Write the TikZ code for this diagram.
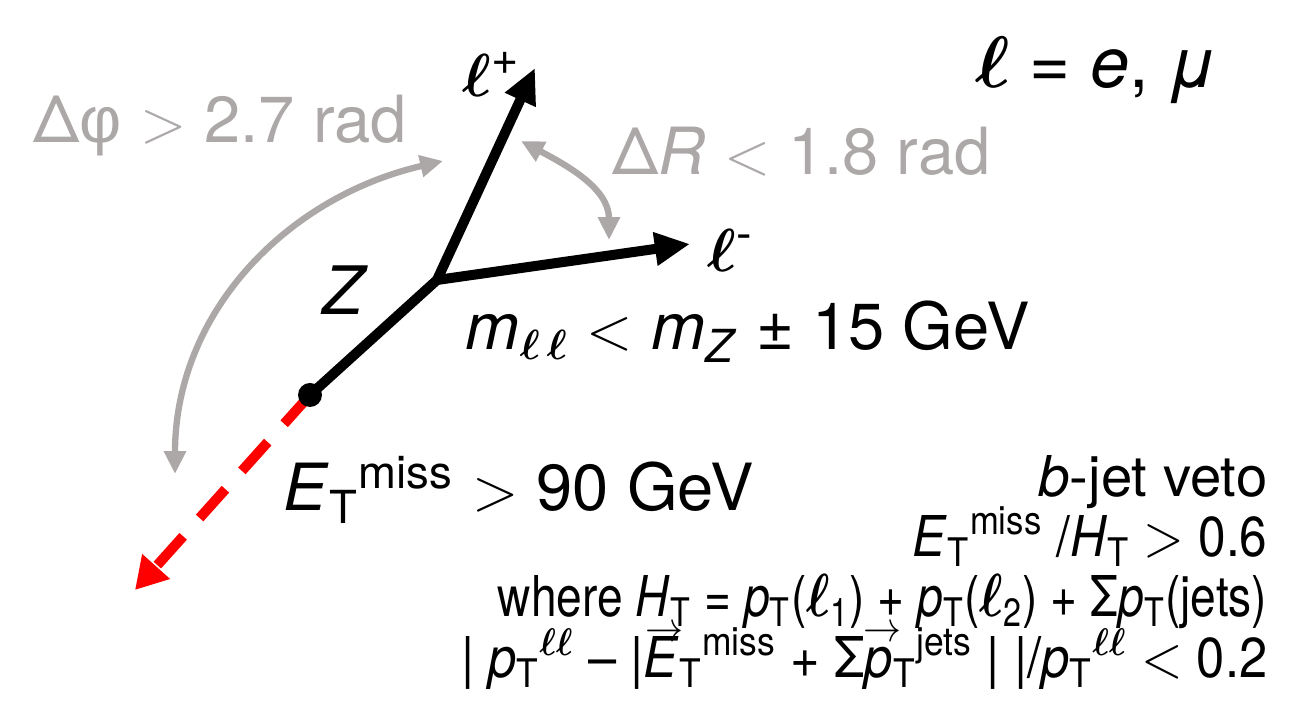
\documentclass[tikz,border=0pt]{standalone}
\usepackage{amsmath,amssymb}
\usepackage{graphicx}
\usepackage{fontspec}
\setmainfont{TeX Gyre Heros}
\newfontfamily\grkfont{Liberation Sans}
\usetikzlibrary{arrows.meta}
\definecolor{arcgray}{RGB}{172,168,168}
\newcommand{\ellb}{\boldsymbol{\ell}}
\newcommand{\ETmiss}{\textit{E}$_{\text{T}}{}^{\text{miss}}$}
\newcommand{\pTx}{\textit{p}$_{\text{T}}$}
\newcommand{\HTx}{\textit{H}$_{\text{T}}$}
\newcommand{\vecx}[1]{\leavevmode\hbox{\ooalign{#1\cr\hidewidth\kern2pt\raisebox{0.64em}{\fontsize{13}{13}\selectfont$\rightarrow$}\hidewidth\cr}}}
\newcommand{\fs}[1]{\fontsize{#1}{#1}\selectfont}

\begin{document}
\begin{tikzpicture}[x=0.01cm,y=-0.01cm,
    lep/.style={line width=2.85pt, -{Triangle[length=10pt,width=9pt]}},
    grayarc/.style={arcgray, line width=1.8pt, {Triangle[length=6.5pt,width=6pt]}-{Triangle[length=6.5pt,width=6pt]}},
    metline/.style={red, line width=2.85pt, dash pattern=on 11pt off 7pt, -{Triangle[length=9pt,width=10pt]}},
    lbl/.style={inner sep=0pt}]
\useasboundingbox (0,0) rectangle (1293,701);

% vertices and tips
\coordinate (vtx) at (437,280);
\coordinate (zdot) at (310,395);
\coordinate (lptip) at (535,68);
\coordinate (lmtip) at (690,244);
\coordinate (mettip) at (135,590);

% missing energy
\draw[metline] (zdot) -- (mettip);

% Z and leptons
\draw[line width=2.85pt] (zdot) -- (vtx);
\draw[lep] (vtx) -- (lptip);
\draw[lep] (vtx) -- (lmtip);
\fill (zdot) circle (12);

% angle arcs
\coordinate (phitop) at (443,161);
\coordinate (phibot) at (175,474);
\draw[grayarc] (phitop) to[out=193,in=90] (phibot);
\coordinate (drtop) at (521,141);
\coordinate (drbot) at (609,240);
\draw[grayarc] (drtop) to[out=-28,in=90] (drbot);

% labels
\node[lbl, anchor=base west, font=\fs{19}] (lplus) at (462,97) {$\ellb^{\text{+}}$};
\node[lbl, anchor=base west, font=\fs{19}] (lminus) at (707,272) {$\ellb^{\text{-}}$};
\node[lbl, anchor=base west, font=\fs{20}] (leps) at (975,88) {$\ellb$ = \textit{e}, \textit{μ}};
\node[lbl, anchor=base west, font=\fs{18.5}, arcgray] (dphi) at (33,143) {Δ{\grkfont φ} $>$ 2.7 rad};
\node[lbl, anchor=base west, font=\fs{18.5}, arcgray] (dR) at (612,175) {Δ\textit{R} $<$ 1.8 rad};
\node[lbl, anchor=base west, font=\fs{19}] (zlab) at (322,315) {\textit{Z}};
\node[lbl, anchor=base west, font=\fs{18.5}] (mll) at (465,350) {\textit{m}$_{\ellb\,\ellb}$ $<$ \textit{m}$_{\text{\textit{Z}}}$ ± 15 GeV};
\node[lbl, anchor=base west, font=\fs{18.5}] (met) at (283,511) {\ETmiss{} $>$ 90 GeV};

% selection
\node[lbl, anchor=base east, font=\fs{16}] (bveto) at (1268,497) {\textit{b}-jet veto};
\node[lbl, anchor=base east, font=\fs{16}] (ratio) at (1268,557) {\scalebox{0.88}[1]{\ETmiss{} /\HTx{} $>$ 0.6}};
\node[lbl, anchor=base east, font=\fs{16}] (htdef) at (1268,617) {\scalebox{0.82}[1]{where \HTx{} = \pTx($\ellb_{\text{1}}$) + \pTx($\ellb_{\text{2}}$) + Σ\pTx(jets)}};
\node[lbl, anchor=base east, font=\fs{16}] (bal) at (1268,678) {\scalebox{0.9}[1]{| \textit{p}$_{\text{T}}{}^{\ellb\ellb}$ – |\vecx{\textit{E}}$_{\text{T}}{}^{\text{miss}}$ + Σ\vecx{\textit{p}}$_{\text{T}}{}^{\text{jets}}$ | |/\textit{p}$_{\text{T}}{}^{\ellb\ellb}$ $<$ 0.2}};
\end{tikzpicture}
\end{document}
